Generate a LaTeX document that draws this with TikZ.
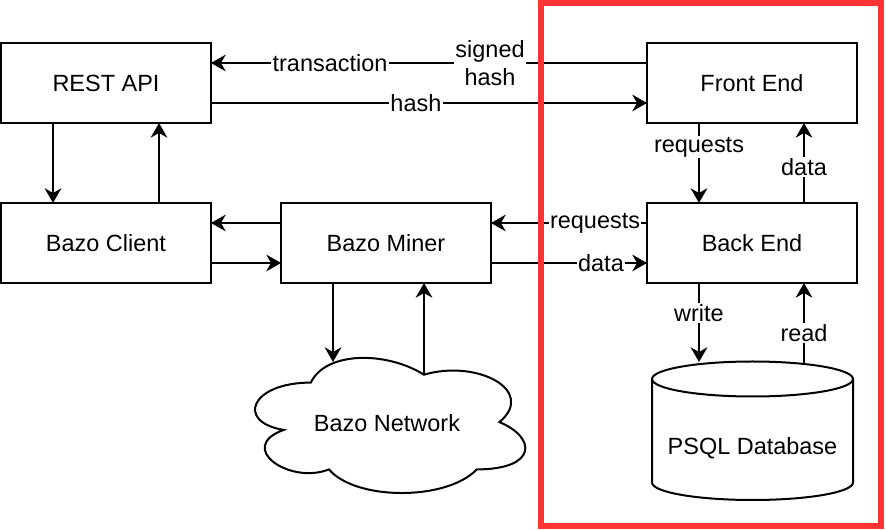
\documentclass[tikz,border=0pt]{standalone}
\usepackage{fontspec}
\setmainfont{Liberation Sans}
\usetikzlibrary{arrows.meta}
\definecolor{redbox}{HTML}{FF3333}
\begin{document}
\begin{tikzpicture}[x=0.75pt,y=-0.75pt,
  font=\fontsize{17.6}{21}\selectfont,
  box/.style={draw, line width=1.5pt, minimum width=157.5pt, minimum height=60pt, inner sep=0pt, outer sep=0pt, align=center},
  arr/.style={line width=1.4pt, -{Stealth[length=11pt,width=12.5pt,inset=3.5pt]}},
  lbl/.style={fill=white, inner sep=1pt, align=center},
  shape line/.style={line width=1.5pt, fill=white}]

\useasboundingbox (0,0) rectangle (886,530);

\node[box] (rest) at (106,83) {REST API};
\node[box] (fe) at (752,83) {Front End};
\node[box] (client) at (106,243) {Bazo Client};
\node[box] (miner) at (386,243) {Bazo Miner};
\node[box] (be) at (752,243) {Back End};

% cloud
\draw[shape line] (310.8,382.6) .. controls (250.5,382.6) and (235.4,422.1) .. (283.7,429.9)
  .. controls (235.4,447.3) and (289.7,485.1) .. (328.9,469.4)
  .. controls (356.1,500.9) and (446.6,500.9) .. (476.8,469.4)
  .. controls (537.1,469.4) and (537.1,437.8) .. (499.4,422.1)
  .. controls (537.1,390.5) and (476.8,359.0) .. (424.0,374.7)
  .. controls (386.3,351.1) and (325.9,351.1) .. (310.8,382.6) -- cycle;
\node (net) at (387,423) {Bazo Network};

% cylinder
\draw[shape line] (652,379) -- (652,482.5) .. controls (652,492.2) and (697,500) .. (752.5,500)
  .. controls (808,500) and (853,492.2) .. (853,482.5) -- (853,379);
\draw[line width=1.5pt] (752.5,379) ellipse [x radius=100.5, y radius=17.5];
\node (db) at (752.5,448) {PSQL Database};

\coordinate (nwin) at (333,362);
\coordinate (nwout) at (424,374.7);
\coordinate (dbin) at (699,362);
\coordinate (dbout) at (804,363);

\draw[arr] ([yshift=15pt]fe.west) -- node[lbl,pos=0.727]{transaction} node[lbl,pos=0.36]{signed\\hash} ([yshift=15pt]rest.east);
\draw[arr] ([yshift=-15pt]rest.east) -- node[lbl,pos=0.47]{hash} ([yshift=-15pt]fe.west);
\draw[arr] ([xshift=-39.75pt]rest.south) -- ([xshift=-39.75pt]client.north);
\draw[arr] ([xshift=39.75pt]client.north) -- ([xshift=39.75pt]rest.south);
\draw[arr] ([yshift=15pt]miner.west) -- ([yshift=15pt]client.east);
\draw[arr] ([yshift=-15pt]client.east) -- ([yshift=-15pt]miner.west);
\draw[arr] ([yshift=15pt]be.west) -- node[lbl,pos=0.333]{requests} ([yshift=15pt]miner.east);
\draw[arr] ([yshift=-15pt]miner.east) -- node[lbl,pos=0.705]{data} ([yshift=-15pt]be.west);
\draw[arr] ([xshift=-39.75pt]fe.south) -- node[lbl,pos=0.3]{requests} ([xshift=-39.75pt]be.north);
\draw[arr] ([xshift=39pt]be.north) -- node[lbl,pos=0.45]{data} ([xshift=39pt]fe.south);
\draw[arr] (be.south -| dbin) -- node[lbl,pos=0.38]{write} (dbin);
\draw[arr] (dbout) -- node[lbl,pos=0.375]{read} (dbout |- be.south);
\draw[arr] (miner.south -| nwin) -- (nwin);
\draw[arr] (nwout) -- (nwout |- miner.south);

\draw[redbox, line width=4.2pt] (541,3) rectangle (881,526);
\end{tikzpicture}
\end{document}
